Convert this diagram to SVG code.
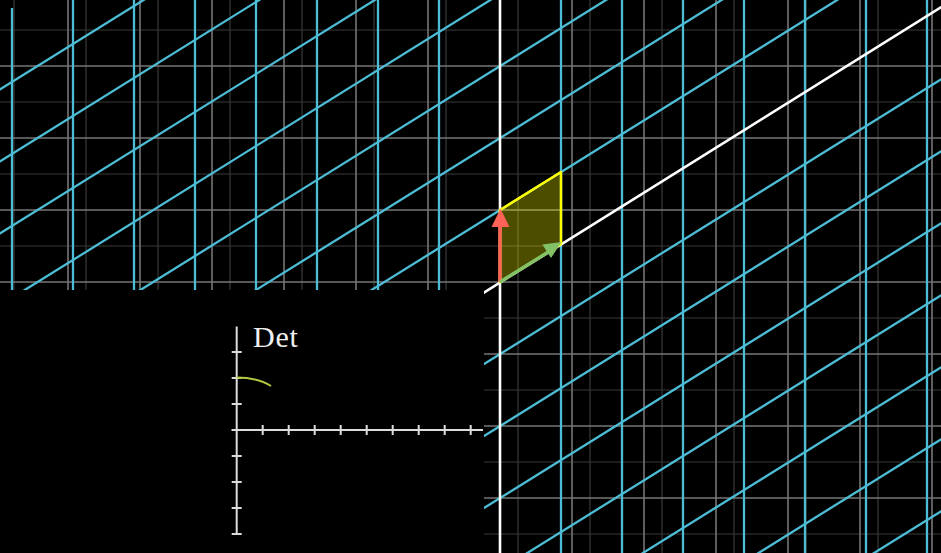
<svg xmlns="http://www.w3.org/2000/svg" width="941" height="553" viewBox="0 0 941 553">
<style>
.bgmaj{stroke:#767676;stroke-width:1.6;fill:none}
.bgmin{stroke:#3a3a3a;stroke-width:1.2;fill:none}
.blue{stroke:#4dbdd6;stroke-width:2.3;fill:none}
.axis{stroke:#ffffff;stroke-width:2.6;fill:none}
.gax{stroke:#dcdcdc;stroke-width:2;fill:none}
</style>
<rect width="941" height="553" fill="#000"/>
<g id="background-grid">
<path class="bgmin" d="M14,0V553M86,0V553M158,0V553M230,0V553M302,0V553M374,0V553M446,0V553M518,0V553M590,0V553M662,0V553M734,0V553M806,0V553M878,0V553M0,30H941M0,102H941M0,174H941M0,246H941M0,318H941M0,390H941M0,462H941M0,534H941"/>
<path class="bgmaj" d="M68,0V553M140,0V553M212,0V553M284,0V553M356,0V553M428,0V553M572,0V553M644,0V553M716,0V553M788,0V553M860,0V553M932,0V553M0,66H941M0,138H941M0,210H941M0,282H941M0,354H941M0,426H941M0,498H941"/>
</g>
<g id="transformed-grid">
<path class="blue" d="M12,8V553M73,0V553M134,0V553M195,0V553M256,0V553M317,0V553M378,0V553M439,0V553M561,0V553M622,0V553M683,0V553M744,0V553M805,0V553M866,0V553M927,0V553"/>
<path class="blue" d="M-10,95.7L950,-502.3M-10,167.7L950,-430.3M-10,239.7L950,-358.3M-10,311.7L950,-286.3M-10,383.7L950,-214.3M-10,455.7L950,-142.3M-10,527.7L950,-70.3M-10,671.7L950,73.7M-10,743.7L950,145.7M-10,815.7L950,217.7M-10,887.7L950,289.7M-10,959.7L950,361.7M-10,1031.7L950,433.7M-10,1103.7L950,505.7"/>
</g>
<g id="axes">
<path class="axis" d="M500,0V553"/>
<path class="axis" d="M470,301.3L950,1.7"/>
</g>
<g id="unit-square">
<polygon points="500,282 561,244 561,172 500,210" fill="#ffff00" fill-opacity="0.3" stroke="#ffff00" stroke-width="2.5" stroke-linejoin="round"/>
</g>
<g id="j-hat">
<line x1="500" y1="282" x2="500" y2="222" stroke="#fc6255" stroke-width="3.5"/>
<polygon points="500.5,208.5 491.5,227 509.5,227" fill="#fc6255"/>
</g>
<g id="i-hat">
<line x1="500" y1="282" x2="550" y2="251" stroke="#83c167" stroke-width="3.5"/>
<polygon points="561.5,242 542.4,244.6 551,258" fill="#83c167"/>
</g>
<g id="det-panel">
<rect x="0" y="290" width="484" height="263" fill="#000"/>
<path class="gax" d="M231.5,430H483M236.7,326.5V534"/>
<path class="gax" d="M262.7,425V435M288.7,425V435M314.7,425V435M340.7,425V435M366.7,425V435M392.7,425V435M418.7,425V435M444.7,425V435M470.7,425V435M231.7,352H241.7M231.7,378H241.7M231.7,404H241.7M231.7,456H241.7M231.7,482H241.7M231.7,508H241.7M231.7,534H241.7"/>
<path d="M236.7,377.6C249,377.6 261,379.5 271,386" stroke="#b4c93c" stroke-width="2" fill="none"/>
<text x="253" y="347.3" font-family="'Liberation Serif','DejaVu Serif',serif" font-size="30" letter-spacing="0.8" fill="#f0f0f0">Det</text>
</g>
</svg>
